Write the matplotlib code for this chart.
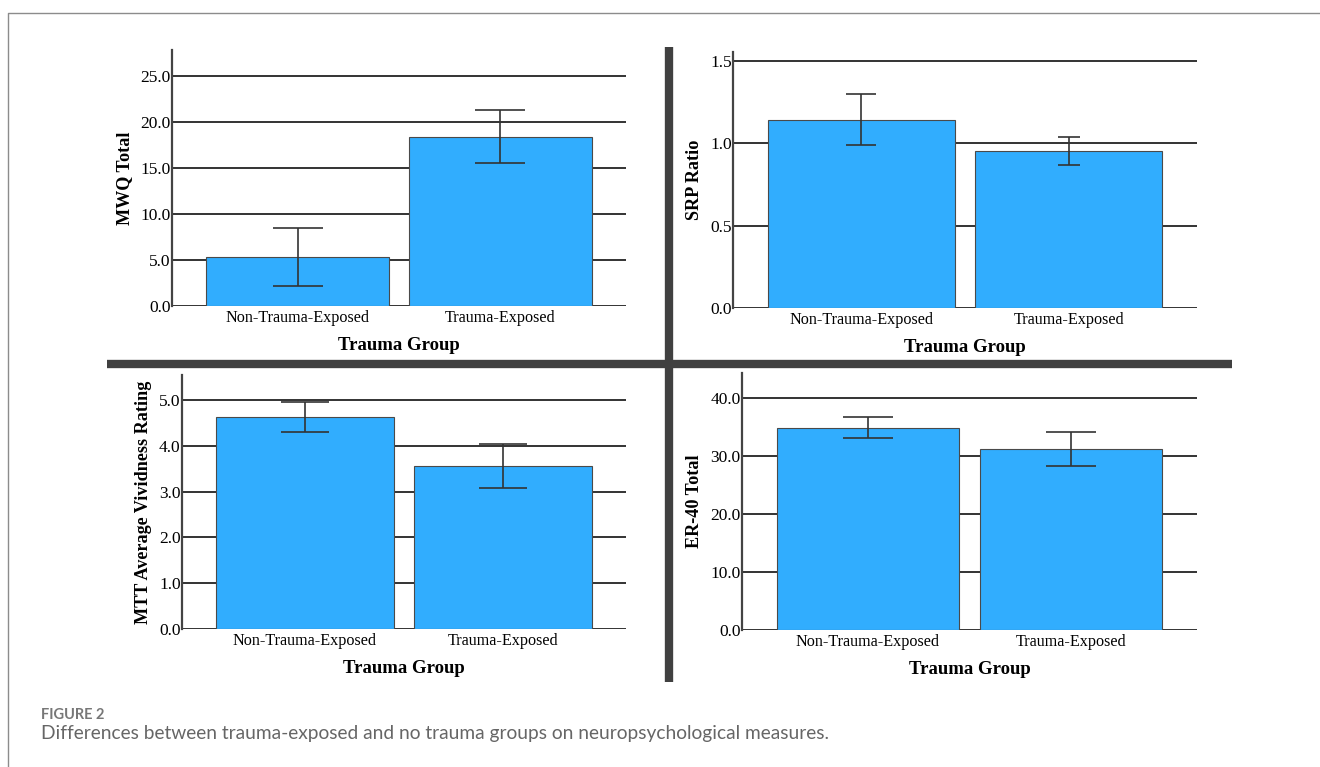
import numpy as np
import matplotlib
matplotlib.use("Agg")
import matplotlib.pyplot as plt
from matplotlib.lines import Line2D

# Data (means and CI bounds)
groups = ["Non-Trauma-Exposed", "Trauma-Exposed"]

mwq_mean = [5.35, 18.4]
mwq_low = [2.2, 15.5]
mwq_high = [8.5, 21.3]

srp_mean = [1.14, 0.953]
srp_low = [0.99, 0.87]
srp_high = [1.30, 1.04]

mtt_mean = [4.63, 3.56]
mtt_low = [4.30, 3.08]
mtt_high = [4.97, 4.04]

er_mean = [34.8, 31.2]
er_low = [33.1, 28.2]
er_high = [36.7, 34.2]

W, H = 1320, 767
fig = plt.figure(figsize=(W / 100, H / 100), dpi=100)

serif = ["Liberation Serif", "DejaVu Serif"]
bar_color = "#31adfe"
line_color = "#333333"


def px_rect(left, top, right, bottom):
    return [left / W, 1 - bottom / H, (right - left) / W, (bottom - top) / H]


def panel(rect, means, low, high, ylabel, ymax, ticks, caps):
    ax = fig.add_axes(px_rect(*rect))
    x = np.arange(len(groups))
    for t in ticks:
        ax.axhline(t, color=line_color, lw=1.4, zorder=1)
    ax.bar(x, means, width=0.9, color=bar_color, edgecolor="#4a4a4a",
           linewidth=0.8, zorder=2)
    for i in range(len(groups)):
        ax.errorbar(x[i], means[i],
                    yerr=[[means[i] - low[i]], [high[i] - means[i]]],
                    fmt="none", ecolor=line_color, elinewidth=1.2,
                    capsize=caps[i], capthick=1.2, zorder=3)
    ax.set_xlim(-0.62, 1.62)
    ax.set_ylim(0, ymax)
    ax.set_yticks(ticks)
    ax.set_yticklabels([f"{t:.1f}" for t in ticks], family=serif, fontsize=12.5)
    ax.set_xticks(x)
    ax.set_xticklabels(groups, family=serif, fontsize=11.6)
    ax.tick_params(length=0, pad=3)
    ax.tick_params(axis="y", pad=1)
    for s in ["top", "right", "bottom"]:
        ax.spines[s].set_visible(False)
    ax.spines["left"].set_color("#444444")
    ax.spines["left"].set_linewidth(1.6)
    ax.set_ylabel(ylabel, family=serif, fontsize=13.1, fontweight="bold",
                  labelpad=5)
    ax.set_xlabel("Trauma Group", family=serif, fontsize=13.5,
                  fontweight="bold", labelpad=8)
    ax.patch.set_alpha(0)
    return ax


panel((172, 50, 626, 306), mwq_mean, mwq_low, mwq_high, "MWQ Total", 27.8,
      [0, 5, 10, 15, 20, 25], [18, 18])
panel((733, 52, 1197, 308), srp_mean, srp_low, srp_high, "SRP Ratio", 1.555,
      [0, 0.5, 1.0, 1.5], [11, 8])
panel((182, 375, 626, 629), mtt_mean, mtt_low, mtt_high,
      "MTT Average Vividness Rating", 5.55, [0, 1, 2, 3, 4, 5], [17, 17])
panel((742, 373, 1197, 630), er_mean, er_low, er_high, "ER-40 Total", 44.3,
      [0, 10, 20, 30, 40], [18, 18])

# separators and outer frame
sep = "#404040"
fig.add_artist(Line2D([669 / W, 669 / W], [1 - 47 / H, 1 - 682 / H],
                      color=sep, lw=6, solid_capstyle="butt"))
fig.add_artist(Line2D([107 / W, 1232 / W], [1 - 364 / H, 1 - 364 / H],
                      color=sep, lw=6, solid_capstyle="butt"))
fig.add_artist(Line2D([8 / W, 8 / W, 1.0], [0, 1 - 13 / H, 1 - 13 / H],
                      color="#8c8c8c", lw=1.0))

# caption
fig.text(41 / W, 1 - 715 / H, "FIGURE 2", family=["Lato", "DejaVu Sans"],
         fontsize=10.5, fontweight="bold", color="#777777", va="center")
fig.text(41 / W, 1 - 734 / H,
         "Differences between trauma-exposed and no trauma groups on neuropsychological measures.",
         family=["Lato", "DejaVu Sans"], fontsize=13.8, color="#666666",
         va="center")

fig.savefig("out.png", dpi=100)
